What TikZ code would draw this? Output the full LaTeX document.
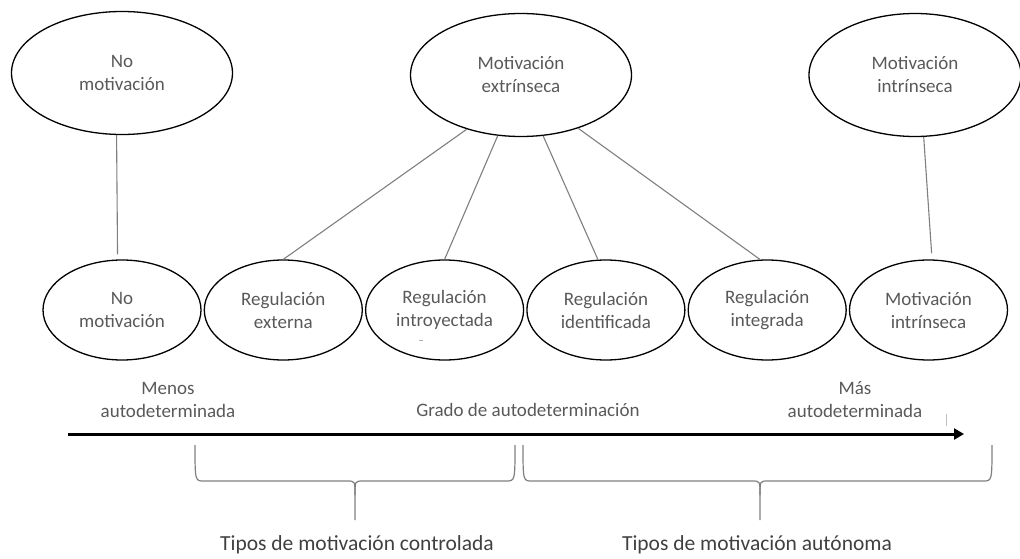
\documentclass[tikz,border=0pt]{standalone}
\usepackage{fontspec}
\setmainfont{Carlito}
\usetikzlibrary{positioning, arrows.meta, shapes.geometric, calc}
\definecolor{txtgray}{HTML}{595959}
\definecolor{linegray}{HTML}{7F7F7F}

\begin{document}
\begin{tikzpicture}[x=1pt, y=-1pt]
        % Definitions
        \def\botY{310}
        \def\axisY{434}
        \def\braceTop{445}
        \def\braceMid{481}
        \def\braceTip{520}

        % Styles
        \tikzstyle{topell} = [ellipse, draw=black, line width=1.3pt, minimum width=221pt, minimum height=123pt, inner sep=0pt, align=center, text=txtgray, font=\fontsize{19}{23}\selectfont]
        \tikzstyle{botell} = [topell, minimum width=158pt, minimum height=100pt]
        \tikzstyle{link} = [draw=linegray, line width=1.1pt]
        \tikzstyle{note} = [align=center, text=txtgray, font=\fontsize{19}{23}\selectfont]
        \tikzstyle{bracket} = [draw=linegray, line width=1.2pt]

        \useasboundingbox (0,0) rectangle (1020,559);

        % Top row
        \node[topell] (nomotA) at (122,73) {No\\motivación};
        \node[topell] (extr) at (521,75) {Motivación\\extrínseca};
        \node[topell, minimum width=212pt] (intrA) at (915,75) {Motivación\\intrínseca};

        % Bottom row
        \node[botell] (nomotB) at (122,\botY) {No\\motivación};
        \node[botell, right=2pt of nomotB] (regext) {Regulación\\externa};
        \node[botell, right=2pt of regext] (regintro) {Regulación\\introyectada};
        \node[botell, right=2pt of regintro] (regiden) {Regulación\\identificada};
        \node[botell, right=2pt of regiden] (reginteg) {Regulación\\integrada};
        \node[botell, right=2pt of reginteg] (intrB) {Motivación\\intrínseca};
        \draw[linegray!60, line width=0.8pt] (419,340) -- (423,340);

        % Links
        \draw[link, shorten >=5pt] (nomotA.265) -- (nomotB.95);
        \draw[link] (extr.225) -- (regext.north);
        \draw[link] (extr.249) -- (regintro.north);
        \draw[link] (extr.290) -- (regiden.99);
        \draw[link] (extr.317) -- (reginteg.98);
        \draw[link, shorten >=6pt] (intrA.278) -- (intrB.86);

        % Axis
        \coordinate (axisL) at (68,\axisY);
        \coordinate (axisR) at (964,\axisY);
        \draw[line width=3pt, -{Triangle[length=10pt, width=11pt]}] (axisL) -- (axisR);
        \node[note] (less) at (168,400) {Menos\\autodeterminada};
        \node[note] (grade) at (528,410) {Grado de autodeterminación};
        \node[note] (more) at (855,400) {Más\\autodeterminada};
        \draw[linegray!50, line width=0.8pt] (946,414) -- (946,426);

        % Braces
        \foreach \xa/\xm/\xb in {195/355/515, 523/760/992} {
            \draw[bracket] (\xa,\braceTop) .. controls (\xa,\braceMid) and (\xa,\braceMid) .. (\xa+9,\braceMid) -- (\xm-8,\braceMid) .. controls (\xm,\braceMid) and (\xm,\braceMid) .. (\xm,\braceMid+14) -- (\xm,\braceTip);
            \draw[bracket] (\xb,\braceTop) .. controls (\xb,\braceMid) and (\xb,\braceMid) .. (\xb-9,\braceMid) -- (\xm+8,\braceMid) .. controls (\xm,\braceMid) and (\xm,\braceMid) .. (\xm,\braceMid+14);
        }
        \node[note, text=black!75, font=\fontsize{21.5}{25}\selectfont] (ctrl) at (357,545) {Tipos de motivación controlada};
        \node[note, text=black!75, font=\fontsize{21.5}{25}\selectfont] (auton) at (757,545) {Tipos de motivación autónoma};

    \end{tikzpicture}
\end{document}
